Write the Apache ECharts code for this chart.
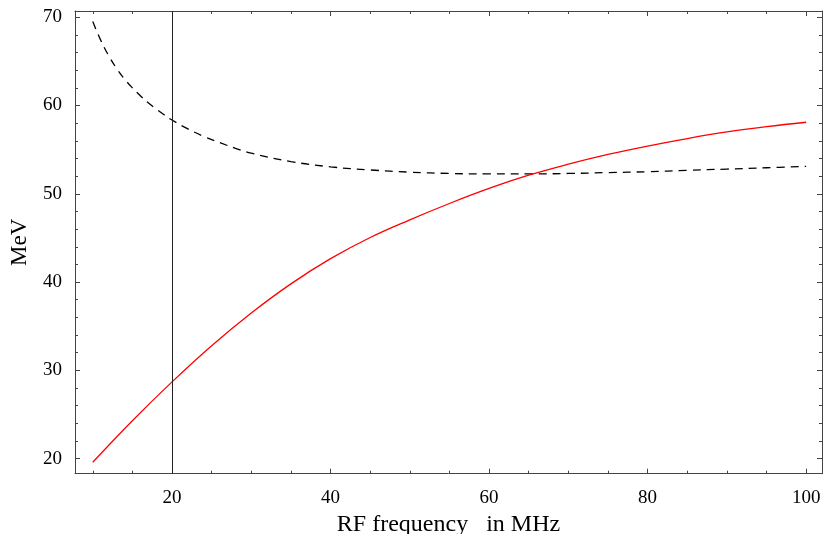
<!DOCTYPE html>
<html>
<head>
<meta charset="utf-8">
<script src="https://cdn.jsdelivr.net/npm/echarts@6/dist/echarts.min.js"></script>
<style>
html,body{margin:0;padding:0;background:#fff;}
#chart{width:823px;height:534px;}
</style>
</head>
<body>
<div id="chart"></div>
<script>
// Data
var dashedX = [10, 11, 12, 13, 14, 15, 16, 17, 18, 19, 20, 22, 24, 26, 28, 30, 35, 40, 45, 50, 55, 60, 65, 70, 75, 80, 85, 90, 95, 100];
var dashedY = [69.5, 67.4, 65.65, 64.2, 63.0, 62.0, 61.1, 60.3, 59.6, 58.95, 58.35, 57.35, 56.5, 55.8, 55.15, 54.6, 53.65, 53.05, 52.7, 52.45, 52.3, 52.25, 52.25, 52.3, 52.4, 52.5, 52.65, 52.8, 52.95, 53.1];
var redX = [10, 15, 20, 25, 30, 35, 40, 45, 50, 55, 60, 65, 70, 75, 80, 85, 90, 95, 100];
var redY = [19.6, 24.3, 28.7, 32.8, 36.5, 39.8, 42.65, 45.05, 47.05, 48.9, 50.6, 52.1, 53.35, 54.45, 55.4, 56.25, 57.0, 57.6, 58.1];
var markerX = 20;
var xMajor = [20, 40, 60, 80, 100];
var xMinor = [10, 15, 25, 30, 35, 45, 50, 55, 65, 70, 75, 85, 90, 95];
var yMajor = [20, 30, 40, 50, 60, 70];
var yMinor = [22, 24, 26, 28, 32, 34, 36, 38, 42, 44, 46, 48, 52, 54, 56, 58, 62, 64, 66, 68];
var xName = 'RF frequency   in MHz';
var yName = 'MeV';

var XMIN = 7.76, XMAX = 102.0, YMIN = 18.3, YMAX = 70.7;
var FONT = 'Liberation Serif';
var FRAME = '#444';

function zip(a, b) { return a.map(function (v, i) { return [v, b[i]]; }); }

function axis(kind, pos, ticks, len, showLine, labels, extra) {
  var o = {
    type: 'value',
    position: pos,
    min: kind === 'x' ? XMIN : YMIN,
    max: kind === 'x' ? XMAX : YMAX,
    splitLine: { show: false },
    axisLine: { show: showLine, onZero: false, lineStyle: { color: FRAME, width: 1 } },
    axisTick: { show: true, inside: true, length: len, customValues: ticks, lineStyle: { color: FRAME, width: 1 } },
    axisLabel: labels ? {
      show: true, customValues: ticks, color: '#000', fontFamily: FONT, fontSize: 19,
      margin: kind === 'x' ? 15 : 13
    } : { show: false }
  };
  for (var k in extra) o[k] = extra[k];
  return o;
}

var chart = echarts.init(document.getElementById('chart'), null, { renderer: 'canvas' });
chart.setOption({
  animation: false,
  backgroundColor: '#fff',
  grid: { left: 75, right: 1, top: 11, bottom: 60.3, containLabel: false, outerBoundsMode: 'none' },
  xAxis: [
    axis('x', 'bottom', xMajor, 5, true, true, {
      name: xName, nameLocation: 'middle', nameGap: 37,
      nameTextStyle: { fontFamily: FONT, fontSize: 24, color: '#000' }
    }),
    axis('x', 'bottom', xMinor, 3, false, false, {}),
    axis('x', 'top', xMajor, 5, true, false, {}),
    axis('x', 'top', xMinor, 3, false, false, {})
  ],
  yAxis: [
    axis('y', 'left', yMajor, 5, true, true, {
      name: yName, nameLocation: 'middle', nameGap: 44, nameRotate: 90,
      nameTextStyle: { fontFamily: FONT, fontSize: 23, color: '#000' }
    }),
    axis('y', 'left', yMinor, 3, false, false, {}),
    axis('y', 'right', yMajor, 5, true, false, {}),
    axis('y', 'right', yMinor, 3, false, false, {})
  ],
  series: [
    {
      type: 'line', xAxisIndex: 0, yAxisIndex: 0,
      data: zip(dashedX, dashedY), smooth: 0.4, showSymbol: false,
      lineStyle: { color: '#000', width: 1.3, type: [8, 6] },
      markLine: {
        silent: true, symbol: ['none', 'none'], label: { show: false },
        lineStyle: { color: '#222', width: 1, type: 'solid' },
        data: [{ xAxis: markerX }]
      }
    },
    {
      type: 'line', xAxisIndex: 0, yAxisIndex: 0,
      data: zip(redX, redY), smooth: 0.4, showSymbol: false,
      lineStyle: { color: '#ff0000', width: 1.3 }
    }
  ]
});
</script>
</body>
</html>
